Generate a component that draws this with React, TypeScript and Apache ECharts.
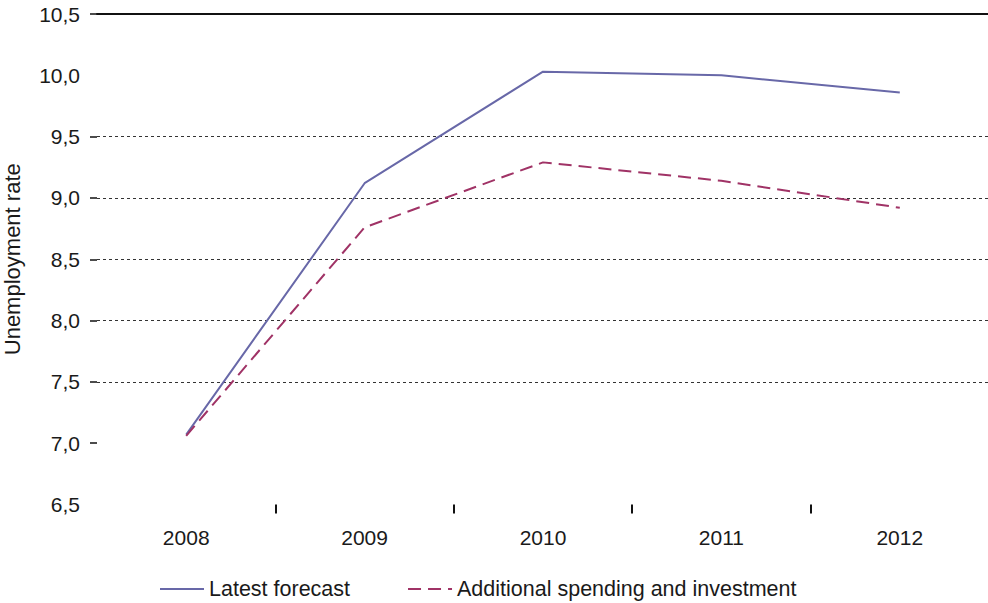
import React, { useEffect, useRef } from "react";
import * as echarts from "echarts";

const categories = ["2008", "2009", "2010", "2011", "2012"];
const latestForecast = [7.07, 9.12, 10.03, 10.0, 9.86];
const additionalSpending = [7.06, 8.76, 9.29, 9.14, 8.92];
const yTickValues = [7.0, 7.5, 8.0, 8.5, 9.0, 9.5, 10.5];

const fmt = (v: number) => v.toFixed(1).replace(".", ",");

export default function App() {
  const ref = useRef<HTMLDivElement>(null);
  useEffect(() => {
    const chart = echarts.init(ref.current!, null, { renderer: "svg" });
    const font = "Liberation Sans, Arial, sans-serif";
    const gridColors = [
      "rgba(0,0,0,0)",
      "#333",
      "#333",
      "#333",
      "#333",
      "#333",
      "#333",
      "rgba(0,0,0,0)",
      "rgba(0,0,0,0)",
    ];
    chart.setOption({
      animation: false,
      backgroundColor: "#fff",
      grid: {
        left: 97,
        right: -1,
        top: 14,
        height: 490.5,
        containLabel: false,
        outerBoundsMode: "none",
      },
      legend: {
        left: 154,
        top: 573,
        itemWidth: 44,
        itemHeight: 14,
        itemGap: 57,
        itemStyle: { opacity: 0 },
        textStyle: { fontFamily: font, fontSize: 21.5, color: "#1a1a1a" },
        data: ["Latest forecast", "Additional spending and investment"],
      },
      xAxis: [
        {
          type: "category",
          data: categories,
          boundaryGap: true,
          axisLine: { show: false },
          axisTick: {
            show: true,
            length: 9,
            interval: (i: number) => i !== 0,
            lineStyle: { color: "#111", width: 2 },
          },
          axisLabel: {
            margin: 22,
            fontFamily: font,
            fontSize: 21,
            color: "#1a1a1a",
          },
          splitLine: { show: false },
        },
        {
          type: "category",
          data: categories,
          position: "top",
          axisLine: { show: true, lineStyle: { color: "#111", width: 1.8 } },
          axisTick: { show: false },
          axisLabel: { show: false },
        },
      ],
      yAxis: {
        type: "value",
        min: 6.5,
        max: 10.5,
        interval: 0.5,
        name: "Unemployment rate",
        nameLocation: "middle",
        nameGap: 74,
        nameTextStyle: { fontFamily: font, fontSize: 22, color: "#1a1a1a" },
        axisLine: { show: false },
        axisTick: {
          show: true,
          length: 7,
          customValues: yTickValues,
          lineStyle: { color: "#111", width: 1.5 },
        },
        axisLabel: {
          margin: 17,
          fontFamily: font,
          fontSize: 21,
          color: "#1a1a1a",
          formatter: (v: number) => fmt(v),
        },
        splitLine: {
          show: true,
          lineStyle: { color: gridColors, type: [3, 3], width: 1.2 },
        },
      },
      series: [
        {
          name: "Latest forecast",
          type: "line",
          data: latestForecast,
          symbol: "none",
          lineStyle: { color: "#6868A8", width: 2 },
          itemStyle: { color: "#6868A8" },
        },
        {
          name: "Additional spending and investment",
          type: "line",
          data: additionalSpending,
          symbol: "none",
          lineStyle: { color: "#A03366", width: 2, type: [13, 7] },
          itemStyle: { color: "#A03366" },
        },
      ],
    });
    return () => chart.dispose();
  }, []);
  return (
    <div
      ref={ref}
      style={{ position: "fixed", left: 0, top: 0, width: 988, height: 603 }}
    />
  );
}
